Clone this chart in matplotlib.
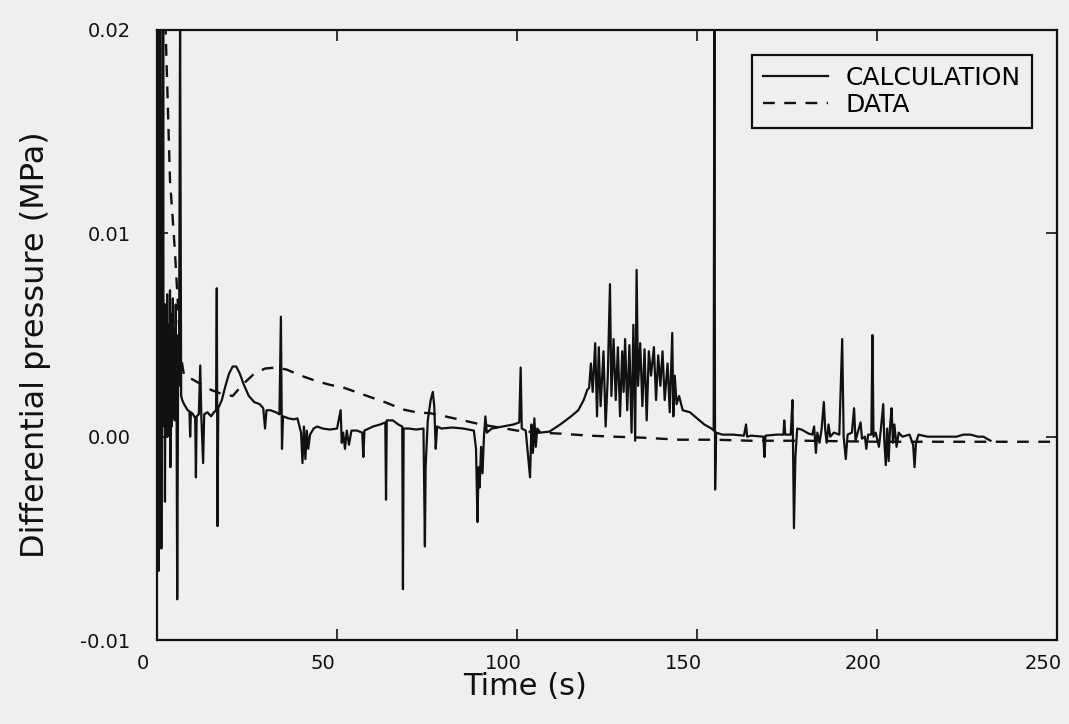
import matplotlib
matplotlib.use("Agg")
import matplotlib.pyplot as plt
import matplotlib.transforms as mtrans
import numpy as np

plt.rcParams['font.family'] = ['DejaVu Sans']
plt.rcParams['axes.unicode_minus'] = False

# calculation trace, time (s) and differential pressure (1e-3 MPa)
calc_t = [0.0, 0.2, 0.4, 0.6, 0.8, 0.9, 1.1, 1.2, 1.4, 1.5, 1.6, 1.7, 1.8, 2.0, 2.2, 2.4,
          2.5, 2.6, 2.8, 2.9, 3.0, 3.2, 3.3, 3.4, 3.6, 3.7, 3.8, 4.0, 4.1, 4.2, 4.4, 4.5,
          4.6, 4.8, 4.9, 5.0, 5.2, 5.3, 5.4, 5.6, 5.9, 6.1, 6.4, 6.7, 7.0,
          7.5, 8.5, 9.0, 9.2, 9.4, 10.0, 10.6, 10.8, 11.0, 11.6, 12.0, 12.3, 12.8, 13.1,
          14.0, 15.0, 15.8, 16.4, 16.6, 16.8, 17.0, 18.0, 19.0, 20.0, 21.0, 22.0, 23.0,
          24.0, 25.5, 27.0, 28.5, 29.5, 30.0, 30.4, 31.5, 33.0, 34.0, 34.4, 34.7, 35.0,
          36.5, 38.0, 39.0, 40.0, 40.4, 40.8, 41.2, 41.6, 42.0, 42.5, 43.5, 44.5, 46.0,
          48.0, 50.0, 51.0, 51.3, 51.7, 52.2, 52.7, 53.3, 54.0, 55.5, 57.0, 57.3, 57.6,
          60.0, 62.0, 63.4, 63.6, 63.8, 65.5, 67.0, 68.1, 68.3, 68.5, 70.0, 72.0, 74.0,
          74.4, 74.6, 75.2, 76.0, 76.6, 77.0, 77.4, 77.8, 79.0, 82.0, 85.0, 88.0, 88.6,
          89.0, 89.3, 89.6, 90.0, 90.4, 90.8, 91.2, 91.6, 93.0, 96.0, 99.0, 100.6, 101.0,
          101.3, 102.4, 103.6, 104.0, 104.4, 104.8, 105.2, 105.6, 106.5, 109.0, 112.0,
          115.0, 117.0, 118.5, 119.5, 120.0, 120.5, 121.0, 121.7, 122.2, 122.7, 123.2,
          124.0, 124.6, 125.2, 125.8, 126.2, 126.8, 127.4, 128.0, 128.6, 129.2, 129.6,
          130.0, 130.6, 131.2, 131.8, 132.3, 132.8, 133.2, 133.6, 134.2, 134.8, 135.4,
          136.0, 136.6, 137.2, 138.0, 138.6, 139.2, 139.8, 140.4, 141.0, 141.8, 142.4,
          143.1, 143.4, 143.8, 144.3, 145.0, 146.0, 148.0, 150.0, 152.0, 154.0, 154.6,
          154.8, 155.0, 155.3, 157.0, 160.0, 163.0, 163.6, 163.9, 165.0, 168.4, 168.7,
          169.0, 172.0, 174.0, 174.2, 174.5, 176.0, 176.5, 176.9, 177.3, 177.8, 179.0,
          181.0, 182.0, 182.5, 183.0, 183.4, 184.0, 184.6, 185.2, 185.6, 186.0, 186.5,
          187.0, 188.0, 189.5, 190.3, 190.7, 191.3, 191.8, 193.0, 193.6, 194.0, 194.6,
          195.4, 195.8, 196.6, 197.0, 197.5, 198.4, 198.7, 199.0, 199.6, 200.5, 201.0,
          201.7, 202.0, 202.4, 202.8, 203.2, 203.6, 204.0, 204.4, 204.8, 205.4, 206.0,
          207.0, 209.0, 210.0, 210.4, 210.8, 211.5, 214.0, 218.0, 222.0, 224.0, 226.0,
          228.0, 229.5, 231.5]
calc_v = [0.0, 21, -6.6, 21, 2.0, 21, 4.0, -5.5, 7.5, 0.5, 6.8, 21, 2.0, 6.5, -3.2, 6.5,
          1.0, 2.5, 7.0, 0.0, 1.5, 5.5, 1.0, 2.8, 7.2, -1.5, 2.0, 6.0, 0.5, 3.0, 6.8, 1.0,
          1.8, 5.2, 0.8, 2.5, 6.5, 1.5, 3.0, -8.0, 5.0, 2.5, 21, 2.0, 1.8,
          1.6, 1.3, 1.25, 0.0, 1.2, 1.1, 0.9, -2.0, 1.0, 1.1, 3.5, 1.0, -1.3, 1.1,
          1.2, 1.0, 1.2, 1.3, 7.3, -4.4, 1.4, 1.8, 2.5, 3.1, 3.45, 3.45, 3.1,
          2.6, 2.0, 1.7, 1.6, 1.4, 0.4, 1.3, 1.3, 1.2, 1.1, 5.9, -0.6, 1.0,
          0.9, 0.85, 0.9, 0.2, -1.3, 0.5, -1.1, 0.3, -0.6, 0.1, 0.4, 0.5, 0.4,
          0.35, 0.4, 1.3, -0.3, 0.2, -0.6, 0.3, -0.4, 0.3, 0.3, 0.2, -1.0, 0.3,
          0.5, 0.6, 0.7, -3.1, 0.8, 0.8, 0.6, 0.5, -7.5, 0.4, 0.4, 0.35, 0.4,
          -5.4, -1.5, 0.8, 1.8, 2.2, 1.5, -0.6, 0.5, 0.4, 0.45, 0.4, 0.3, -0.6,
          -4.2, -1.5, -2.5, -0.5, -1.8, 0.0, 1.0, 0.2, 0.4, 0.5, 0.6, 0.7, 3.4,
          0.4, 0.3, -2.0, 0.6, -0.8, 0.9, -0.5, 0.4, 0.2, 0.25, 0.6,
          1.0, 1.3, 1.8, 2.3, 2.4, 3.6, 2.2, 4.6, 1.0, 4.4, 1.5,
          4.2, 0.5, 3.0, 7.5, 2.0, 4.8, 1.8, 4.4, 1.0, 4.2, 2.2,
          4.8, 1.3, 4.5, 0.2, 5.5, -0.2, 8.2, 2.5, 4.6, 1.5, 4.3,
          0.8, 4.2, 3.0, 4.4, 1.8, 4.0, 2.5, 4.2, 1.8, 3.6, 1.2,
          5.1, 1.0, 3.0, 1.6, 2.0, 1.3, 1.2, 0.9, 0.6, 0.4, 0.3,
          21, -2.6, 0.2, 0.1, 0.1, 0.05, 0.6, 0.0, 0.05, 0.0, -1.0,
          0.05, 0.1, 0.1, 0.8, 0.1, 0.1, 1.8, -4.5, -1.0, 0.4, 0.35,
          0.15, 0.1, 0.5, -0.8, 0.2, -0.3, 0.4, 1.7, 0.3, -0.3, 0.6,
          0.0, 0.2, 0.1, 4.8, 0.0, -1.1, 0.1, 0.2, 1.4, -0.2, 0.2,
          0.7, -0.1, 0.0, -0.6, 0.1, 0.1, 5.0, 0.0, 0.2, -0.5, 0.3,
          1.6, -0.2, -1.4, 0.4, -1.2, 0.5, 1.4, -0.3, 0.6, -0.5, 0.2,
          0.0, 0.1, -0.4, -1.5, -0.3, 0.1, 0.0, 0.0, 0.0, 0.1, 0.1,
          0.0, 0.0, -0.2]

# measured data
data_t = [0, 0.5, 2.2, 2.3, 3.6, 4.4, 5.0, 5.8, 6.6, 7.5, 9, 12, 15, 18, 21, 24, 27, 30,
          33, 36, 40, 44, 48, 52, 56, 60, 64, 68, 72, 76, 80, 85, 90, 95, 100, 106, 112,
          120, 127, 135, 145, 155, 165, 180, 200, 220, 235, 250]
data_v = [0, 21, 21, 20.5, 12.6, 10.6, 9.0, 6.5, 4.0, 3.0, 2.9, 2.6, 2.3, 2.1, 2.0, 2.6,
          3.1, 3.35, 3.4, 3.3, 3.0, 2.75, 2.55, 2.4, 2.15, 1.9, 1.65, 1.35, 1.2, 1.15, 1.0,
          0.8, 0.6, 0.45, 0.3, 0.2, 0.15, 0.05, 0.0, -0.05, -0.15, -0.15, -0.2, -0.2,
          -0.25, -0.25, -0.25, -0.25]

xticks = [0, 50, 100, 150, 200, 250]
yticks = [-0.01, 0.00, 0.01, 0.02]

bg = '#efefef'
ink = '#111111'
fig = plt.figure(figsize=(10.69, 7.24), dpi=100, facecolor=bg)
ax = fig.add_axes([0.1469, 0.116, 0.842, 0.8426])
ax.set_facecolor(bg)

ax.plot(calc_t, np.array(calc_v) / 1000, color=ink, lw=1.6, label='CALCULATION')
ax.plot(data_t, np.array(data_v) / 1000, color=ink, lw=1.7,
        linestyle=(0, (5, 4)), label='DATA')

ax.set_xlim(0, 250)
ax.set_ylim(-0.01, 0.02)
ax.set_xticks(xticks)
ax.set_yticks(yticks)
ax.set_yticklabels(['%.2f' % y for y in yticks])
ax.tick_params(direction='in', length=8, width=1.2, top=True, right=True,
               labelsize=14, colors=ink)
ax.tick_params(axis='x', pad=10)
ax.tick_params(axis='y', pad=19)
# tick labels sit a little left of their ticks in the original
shift = mtrans.ScaledTranslation(-0.14, 0, fig.dpi_scale_trans)
for lab in ax.get_xticklabels():
    lab.set_transform(lab.get_transform() + shift)
for s in ax.spines.values():
    s.set_linewidth(1.6)
    s.set_color(ink)

ax.set_xlabel('Time (s)', fontsize=22, color=ink)
ax.xaxis.set_label_coords(0.409, -0.052)
ax.set_ylabel('Differential pressure (MPa)', fontsize=23, color=ink)
ax.yaxis.set_label_coords(-0.118, 0.484)

leg = ax.legend(loc='upper right', bbox_to_anchor=(0.972, 0.959), fontsize=18,
                frameon=True, fancybox=False, handlelength=2.6, borderpad=0.45,
                labelspacing=0.1, handletextpad=0.7, borderaxespad=0)
leg.get_frame().set_edgecolor(ink)
leg.get_frame().set_linewidth(1.6)
leg.get_frame().set_facecolor(bg)
leg.get_frame().set_alpha(1)

fig.savefig('out.png', dpi=100, facecolor=bg)
